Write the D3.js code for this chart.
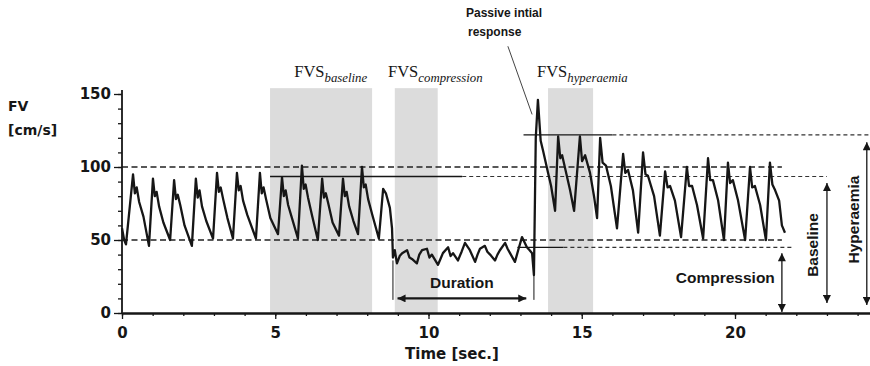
<!DOCTYPE html>
<html><head><meta charset="utf-8">
<script src="https://cdn.jsdelivr.net/npm/d3@7"></script>
<style>body{margin:0;background:#fff}svg{display:block}</style>
</head><body>
<svg id="c" width="870" height="366"></svg>
<script>
// ---------- data ----------
const xTicks = [0, 5, 10, 15, 20];
const yTicks = [0, 50, 100, 150];

// FV trace, baseline phase (time s, FV cm/s)
const baseTime = [0, 0.07, 0.13,
  0.36, 0.42, 0.48, 0.56, 0.70, 0.88,
  1.01, 1.07, 1.13, 1.21, 1.35, 1.57,
  1.70, 1.76, 1.82, 1.90, 2.04, 2.28,
  2.41, 2.47, 2.53, 2.61, 2.75, 2.97,
  3.10, 3.16, 3.22, 3.30, 3.44, 3.62,
  3.75, 3.81, 3.87, 3.95, 4.09, 4.37,
  4.50, 4.56, 4.62, 4.70, 4.84, 5.09,
  5.22, 5.28, 5.34, 5.42, 5.56, 5.74,
  5.87, 5.93, 5.99, 6.07, 6.21, 6.39,
  6.53, 6.59, 6.65, 6.73, 6.87, 7.08,
  7.21, 7.27, 7.33, 7.41, 7.55, 7.70,
  7.83, 7.89, 7.95, 8.03, 8.17, 8.38,
  8.52, 8.61, 8.74, 8.81];
const baseFV = [58, 50, 47,
  95, 82, 86, 76, 66, 46,
  92, 80, 83, 73, 62, 50,
  91, 78, 81, 74, 60, 46,
  92, 79, 84, 73, 63, 51,
  96, 83, 86, 78, 65, 51,
  96, 84, 87, 77, 67, 51,
  96, 82, 86, 78, 65, 54,
  93, 80, 84, 74, 64, 51,
  101, 85, 88, 79, 66, 50,
  92, 79, 82, 75, 62, 53,
  92, 80, 83, 73, 63, 54,
  100, 86, 88, 78, 67, 51,
  85, 82, 72, 58];

// compression phase
const compTime = [8.84, 8.90, 8.97, 9.06, 9.14, 9.30, 9.38, 9.46, 9.62, 9.70,
  9.79, 9.95, 10.03, 10.11, 10.31, 10.39, 10.47, 10.64, 10.72, 10.80,
  10.96, 11.08, 11.19, 11.35, 11.52, 11.60, 11.68, 11.84, 11.92, 12.01,
  12.17, 12.25, 12.33, 12.50, 12.58, 12.66, 12.82, 12.94, 13.05, 13.21,
  13.30, 13.38, 13.44];
const compFV = [38, 43, 34, 39, 41, 43, 38, 37, 34, 40,
  43, 44, 38, 40, 33, 37, 41, 45, 39, 41,
  36, 42, 48, 43, 35, 40, 44, 46, 42, 40,
  36, 40, 43, 48, 44, 41, 35, 44, 52, 45,
  43, 41, 26];

// hyperaemia phase
const hypTime = [13.50, 13.57, 13.66, 13.74, 13.90, 14.00, 14.13,
  14.23, 14.30, 14.36, 14.49, 14.62, 14.75,
  14.94, 15.01, 15.11, 15.27, 15.40, 15.50,
  15.60, 15.68, 15.79, 15.95, 16.15,
  16.35, 16.42, 16.51, 16.67, 16.84,
  17.00, 17.08, 17.16, 17.36, 17.55,
  17.72, 17.80, 17.88, 18.04, 18.24,
  18.43, 18.50, 18.60, 18.76, 18.96,
  19.12, 19.19, 19.28, 19.45, 19.64,
  19.77, 19.84, 19.93, 20.10, 20.33,
  20.49, 20.56, 20.65, 20.82, 21.01,
  21.14, 21.22, 21.31, 21.44, 21.53, 21.63];
const hypFV = [120, 146, 118, 111, 96, 87, 70,
  121, 106, 108, 96, 84, 70,
  121, 104, 108, 96, 80, 65,
  120, 103, 101, 87, 58,
  109, 96, 98, 84, 55,
  110, 95, 94, 80, 53,
  97, 86, 87, 77, 52,
  100, 87, 87, 74, 51,
  106, 91, 91, 77, 50,
  103, 89, 91, 77, 50,
  100, 86, 87, 74, 50,
  103, 88, 84, 77, 60, 55];

// FVS analysis windows
const windowNames = ["baseline", "compression", "hyperaemia"];
const windowStart = [4.83, 8.90, 13.90];
const windowEnd = [8.16, 10.30, 15.37];
const windowLabelT = [5.62, 8.68, 13.54];
const windowTop = 154;

// reference levels: value, solid from, solid to (= dashed from), dashed to
const refValue = [100, 50, 93.5, 122, 45];
const refSolidStart = [0, 0, 4.83, 13.1, 12.9];
const refSolidEnd = [0, 0, 11.1, 16.0, 14.4];
const refEnd = [21.53, 21.53, 23.0, 24.5, 21.9];

// vertical difference arrows
const arrowNames = ["Compression", "Baseline", "Hyperaemia"];
const arrowT = [21.53, 23.0, 24.3];
const arrowTop = [41, 89, 117];
const arrowBottom = [0.7, 6.8, 5.5];

// duration
const durationStart = 8.84, durationEnd = 13.44, durationLevel = 10;

// ---------- chart ----------
const svg = d3.select("#c");
const x = d3.scaleLinear().domain([0, 24.5]).range([122, 122 + 24.5 * 30.65]);
const y = d3.scaleLinear().domain([0, 150]).range([313, 94]);
const INK = "#161616";
const ANN = "'Liberation Sans', Arial, sans-serif";
const AX = "'DejaVu Sans', sans-serif";

const defs = svg.append("defs");
["end", "start"].forEach(k => {
  defs.append("marker").attr("id", "ah-" + k)
    .attr("viewBox", "0 0 10 10").attr("refX", 10).attr("refY", 5)
    .attr("markerWidth", 9).attr("markerHeight", 8).attr("markerUnits", "userSpaceOnUse")
    .attr("orient", k === "end" ? "auto" : "auto-start-reverse")
    .append("path").attr("d", "M0,0 L10,5 L0,10 Z").attr("fill", INK);
});

// shading windows
svg.append("g").selectAll("rect").data(windowNames).join("rect")
  .attr("x", (d, i) => x(windowStart[i]))
  .attr("width", (d, i) => x(windowEnd[i]) - x(windowStart[i]))
  .attr("y", y(windowTop)).attr("height", y(0) - y(windowTop))
  .attr("fill", "#dcdcdc");

// window labels
const wl = svg.append("g").selectAll("text").data(windowNames).join("text")
  .attr("x", (d, i) => x(windowLabelT[i])).attr("y", 77)
  .attr("font-family", "'Liberation Serif', 'Times New Roman', serif")
  .attr("font-size", 16.5).attr("fill", INK);
wl.append("tspan").text("FVS");
wl.append("tspan").text(d => d).attr("font-style", "italic").attr("font-size", 12.8).attr("dy", 5);

// reference lines
refValue.forEach((v, i) => {
  if (refSolidEnd[i] > refSolidStart[i]) {
    svg.append("line").attr("x1", x(refSolidStart[i])).attr("x2", x(refSolidEnd[i]))
      .attr("y1", y(v)).attr("y2", y(v)).attr("stroke", INK).attr("stroke-width", 1.3);
    svg.append("line").attr("x1", x(refSolidEnd[i])).attr("x2", x(refEnd[i]))
      .attr("y1", y(v)).attr("y2", y(v)).attr("stroke", "#333").attr("stroke-width", 1.2)
      .attr("stroke-dasharray", "4,3");
  } else {
    svg.append("line").attr("x1", x(refSolidStart[i])).attr("x2", x(refEnd[i]))
      .attr("y1", y(v)).attr("y2", y(v)).attr("stroke", "#222").attr("stroke-width", 1.3)
      .attr("stroke-dasharray", "6,3.5");
  }
});

// trace
const tr = [];
baseTime.forEach((t, i) => tr.push([t, baseFV[i]]));
compTime.forEach((t, i) => tr.push([t, compFV[i]]));
hypTime.forEach((t, i) => tr.push([t, hypFV[i]]));
svg.append("path").datum(tr)
  .attr("d", d3.line().x(d => x(d[0])).y(d => y(d[1])))
  .attr("fill", "none").attr("stroke", INK).attr("stroke-width", 2.3)
  .attr("stroke-linejoin", "round");

// duration bounds and arrow
[[durationStart, 36], [durationEnd, 26]].forEach(([t, v]) => {
  svg.append("line").attr("x1", x(t)).attr("x2", x(t)).attr("y1", y(v)).attr("y2", y(durationLevel - 1))
    .attr("stroke", INK).attr("stroke-width", 1);
});
svg.append("line").attr("x1", x(durationStart + 0.15)).attr("x2", x(durationEnd - 0.25))
  .attr("y1", y(durationLevel)).attr("y2", y(durationLevel))
  .attr("stroke", INK).attr("stroke-width", 2.2)
  .attr("marker-start", "url(#ah-start)").attr("marker-end", "url(#ah-end)");
svg.append("text").attr("x", x((durationStart + durationEnd) / 2 - 0.05)).attr("y", y(17))
  .attr("text-anchor", "middle").attr("font-family", ANN).attr("font-weight", "bold")
  .attr("font-size", 15.5).attr("fill", INK).text("Duration");

// vertical arrows
arrowNames.forEach((n, i) => {
  svg.append("line").attr("x1", x(arrowT[i])).attr("x2", x(arrowT[i]))
    .attr("y1", y(arrowBottom[i])).attr("y2", y(arrowTop[i]))
    .attr("stroke", INK).attr("stroke-width", 1.3)
    .attr("marker-start", "url(#ah-start)").attr("marker-end", "url(#ah-end)");
});
svg.append("text").attr("x", x(21.3)).attr("y", y(20.5)).attr("text-anchor", "end")
  .attr("font-family", ANN).attr("font-weight", "bold").attr("font-size", 15.5).attr("fill", INK)
  .text("Compression");
[["Baseline", 22.55, 46.6], ["Hyperaemia", 23.88, 64]].forEach(([s, t, v]) => {
  svg.append("text").attr("transform", `translate(${x(t) + 5},${y(v)}) rotate(-90)`)
    .attr("text-anchor", "middle").attr("font-family", ANN).attr("font-weight", "bold")
    .attr("font-size", 15.5).attr("fill", INK).text(s);
});

// passive initial response annotation
svg.append("text").attr("x", 466).attr("y", 17).attr("font-family", ANN).attr("font-weight", "bold")
  .attr("font-size", 12).attr("fill", INK).text("Passive intial");
svg.append("text").attr("x", 468).attr("y", 36).attr("font-family", ANN).attr("font-weight", "bold")
  .attr("font-size", 12).attr("fill", INK).text("response");
svg.append("line").attr("x1", x(12.59)).attr("y1", y(182.7)).attr("x2", x(13.38)).attr("y2", y(136))
  .attr("stroke", "#444").attr("stroke-width", 1);

// axes
const gx = svg.append("g").attr("transform", `translate(0,${y(0)})`);
gx.call(d3.axisBottom(x).tickValues(d3.range(0, 25)).tickSize(3).tickSizeOuter(0).tickFormat(""));
gx.call(g => g.select(".domain").remove());
const gx2 = svg.append("g").attr("transform", `translate(0,${y(0)})`)
  .call(d3.axisBottom(x).tickValues(xTicks).tickSize(6).tickPadding(8).tickSizeOuter(0));
gx2.select(".domain").attr("stroke-width", 2.4).attr("stroke", INK);
gx2.selectAll("text").attr("font-family", AX).attr("font-weight", "bold").attr("font-size", 15).attr("fill", INK);

const gy = svg.append("g").attr("transform", `translate(${x(0)},0)`);
gy.call(d3.axisLeft(y).tickValues(d3.range(0, 151, 10)).tickSize(4).tickFormat("").tickSizeOuter(0));
gy.select(".domain").remove();
const gy2 = svg.append("g").attr("transform", `translate(${x(0)},0)`)
  .call(d3.axisLeft(y).tickValues(yTicks).tickSize(8).tickPadding(3).tickSizeOuter(0));
gy2.select(".domain").attr("d", `M0,${y(0)}V90`).attr("stroke-width", 1.8).attr("stroke", INK);
svg.selectAll(".tick line").attr("stroke", INK).attr("stroke-width", 1.3);
gy2.selectAll("text").attr("font-family", AX).attr("font-weight", "bold").attr("font-size", 15).attr("fill", INK);

// axis titles
svg.append("text").attr("x", 452).attr("y", 359).attr("text-anchor", "middle")
  .attr("font-family", AX).attr("font-weight", "bold").attr("font-size", 15).attr("fill", INK)
  .text("Time [sec.]");
svg.append("text").attr("x", 8).attr("y", 111).attr("font-family", AX).attr("font-weight", "bold")
  .attr("font-size", 14).attr("fill", INK).text("FV");
svg.append("text").attr("x", 8).attr("y", 135).attr("font-family", AX).attr("font-weight", "bold")
  .attr("font-size", 14).attr("fill", INK).text("[cm/s]");
</script>
</body></html>
